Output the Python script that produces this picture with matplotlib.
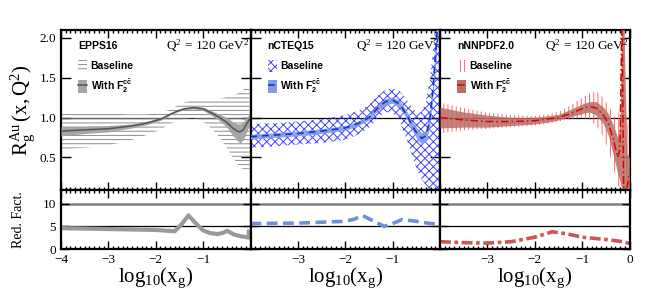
import matplotlib
matplotlib.use("Agg")
import matplotlib.pyplot as plt
from matplotlib.patches import Patch
from matplotlib.lines import Line2D
from matplotlib.ticker import MultipleLocator

plt.rcParams['font.family'] = ['Liberation Serif', 'DejaVu Serif']
plt.rcParams['mathtext.fontset'] = 'custom'
plt.rcParams['mathtext.rm'] = 'Liberation Serif'
plt.rcParams['mathtext.it'] = 'Liberation Serif:italic'
plt.rcParams['mathtext.sf'] = 'Liberation Sans:bold'
plt.rcParams['hatch.linewidth'] = 0.7

# ---- top panels: R_g^Au ----
# EPPS16
eppsX = [-4, -3.5, -3, -2.5, -2.2, -1.9, -1.7, -1.55, -1.4, -1.2, -1.0, -0.8, -0.65, -0.5, -0.38, -0.28, -0.22, -0.15, -0.08, -0.02]
eppsMid = [0.83, 0.845, 0.86, 0.895, 0.93, 0.98, 1.04, 1.08, 1.11, 1.125, 1.11, 1.05, 1.0, 0.94, 0.87, 0.83, 0.82, 0.85, 0.92, 0.98]
eppsLo = [0.77, 0.80, 0.82, 0.87, 0.91, 0.965, 1.03, 1.07, 1.10, 1.11, 1.09, 1.02, 0.96, 0.88, 0.78, 0.71, 0.68, 0.72, 0.82, 0.9]
eppsHi = [0.89, 0.89, 0.90, 0.92, 0.95, 0.995, 1.05, 1.09, 1.12, 1.14, 1.13, 1.08, 1.04, 1.0, 0.95, 0.92, 0.92, 0.95, 1.0, 1.05]
eppsBaseLo = [0.60, 0.62, 0.65, 0.72, 0.78, 0.85, 0.92, 0.96, 0.98, 0.99, 0.95, 0.85, 0.75, 0.62, 0.5, 0.42, 0.38, 0.35, 0.35, 0.35]
eppsBaseHi = [1.06, 1.05, 1.05, 1.04, 1.04, 1.06, 1.10, 1.15, 1.19, 1.22, 1.22, 1.22, 1.23, 1.26, 1.28, 1.3, 1.32, 1.35, 1.38, 1.4]

# nCTEQ15
ncteqX = [-4, -3.5, -3, -2.5, -2, -1.75, -1.5, -1.3, -1.15, -1.0, -0.85, -0.7, -0.55, -0.45, -0.38, -0.3, -0.22, -0.15, -0.1, -0.05, 0]
ncteqMid = [0.76, 0.78, 0.80, 0.83, 0.87, 0.92, 1.0, 1.13, 1.2, 1.22, 1.17, 1.03, 0.86, 0.77, 0.74, 0.77, 0.95, 1.35, 1.75, 2.2, 2.6]
ncteqLo = [0.73, 0.75, 0.77, 0.80, 0.84, 0.89, 0.97, 1.09, 1.16, 1.18, 1.13, 0.98, 0.80, 0.70, 0.67, 0.70, 0.87, 1.25, 1.6, 2.0, 2.4]
ncteqHi = [0.79, 0.81, 0.83, 0.86, 0.90, 0.95, 1.03, 1.17, 1.24, 1.26, 1.21, 1.08, 0.92, 0.84, 0.81, 0.84, 1.03, 1.45, 1.9, 2.4, 2.8]
ncteqBaseLo = [0.62, 0.64, 0.66, 0.68, 0.72, 0.78, 0.87, 1.0, 1.07, 1.06, 0.95, 0.72, 0.45, 0.3, 0.22, 0.15, 0.1, 0.1, 0.1, 0.1, 0.1]
ncteqBaseHi = [0.92, 0.93, 0.95, 0.98, 1.03, 1.08, 1.16, 1.28, 1.35, 1.37, 1.33, 1.22, 1.1, 1.05, 1.08, 1.2, 1.45, 1.8, 2.2, 2.2, 2.2]

# nNNPDF2.0
nnpdfX = [-4, -3.5, -3, -2.5, -2, -1.75, -1.5, -1.25, -1.0, -0.85, -0.7, -0.55, -0.45, -0.35, -0.25, -0.2, -0.16, -0.12, -0.06, 0]
nnpdfMid = [1.0, 0.97, 0.95, 0.95, 0.96, 0.98, 1.0, 1.05, 1.11, 1.14, 1.12, 1.03, 0.93, 0.75, 0.5, 0.6, 2.3, 0.0, 0.1, 0.3]
nnpdfLo = [0.87, 0.88, 0.88, 0.9, 0.92, 0.94, 0.97, 1.01, 1.05, 1.07, 1.03, 0.92, 0.78, 0.55, 0.3, 0.2, 0.1, 0.05, 0.05, 0.05]
nnpdfHi = [1.13, 1.07, 1.03, 1.0, 1.0, 1.02, 1.04, 1.1, 1.17, 1.2, 1.2, 1.13, 1.05, 0.92, 0.75, 0.9, 2.3, 2.3, 0.55, 0.5]
nnpdfBaseLo = [0.8, 0.84, 0.86, 0.88, 0.9, 0.92, 0.95, 0.98, 1.0, 0.97, 0.9, 0.75, 0.6, 0.4, 0.15, 0.1, 0.1, 0.1, 0.1, 0.1]
nnpdfBaseHi = [1.19, 1.12, 1.06, 1.03, 1.02, 1.04, 1.07, 1.15, 1.25, 1.3, 1.33, 1.25, 1.15, 1.05, 0.95, 1.2, 2.3, 2.3, 1.0, 0.8]

# ---- bottom panels: reduction factor ----
eppsRedX = [-4, -3, -2, -1.6, -1.45, -1.31, -1.15, -1.0, -0.85, -0.7, -0.6, -0.49, -0.35, -0.2, -0.08, -0.04, -0.03]
eppsRed = [4.6, 4.4, 4.2, 3.9, 5.5, 7.4, 5.6, 4.1, 3.5, 3.3, 3.5, 4.0, 3.2, 2.8, 2.6, 2.5, 4.3]
ncteqRedX = [-4, -3, -2, -1.8, -1.64, -1.45, -1.18, -1.0, -0.8, -0.5, -0.2, -0.03]
ncteqRed = [5.6, 5.7, 6.1, 6.6, 7.4, 6.4, 5.0, 5.6, 6.5, 6.1, 5.6, 5.5]
nnpdfRedX = [-4, -3.5, -3, -2.5, -2, -1.63, -1.3, -1, -0.5, -0.2, 0]
nnpdfRed = [1.6, 1.4, 1.3, 1.6, 2.6, 3.8, 3.3, 2.6, 2.1, 1.7, 1.25]

names = ["EPPS16", "nCTEQ15", "nNNPDF2.0"]
fig = plt.figure(figsize=(6.64, 2.93), dpi=100)

left0 = 61 / 664
panelW = 189.5 / 664
topB, topH = (293 - 190) / 293, 160 / 293
botB, botH = (293 - 249) / 293, 59 / 293

def style(ax):
    ax.tick_params(which='both', direction='in', top=True, right=True, width=1.0, labelsize=9.5)
    ax.tick_params(which='major', length=6)
    ax.tick_params(which='minor', length=2.5)
    for s in ax.spines.values():
        s.set_linewidth(1.6)

topAxes = []
botAxes = []
for i in range(3):
    at = fig.add_axes([left0 + i * panelW, topB, panelW, topH])
    ab = fig.add_axes([left0 + i * panelW, botB, panelW, botH])
    for a in (at, ab):
        a.set_xlim(-4, 0)
        a.xaxis.set_major_locator(MultipleLocator(1))
        a.xaxis.set_minor_locator(MultipleLocator(0.1))
        style(a)
    at.set_ylim(0.09, 2.1)
    at.yaxis.set_major_locator(MultipleLocator(0.5))
    at.tick_params(axis='x', labelbottom=False)
    at.tick_params(axis='y', which='major', length=7)
    ab.set_ylim(0, 13)
    ab.yaxis.set_major_locator(MultipleLocator(5))
    at.axhline(1, color='black', lw=0.9, zorder=1)
    ab.axhline(10, color='gray', lw=1.8, zorder=1)
    ab.axhline(5, color='black', lw=0.9, zorder=1)
    ab.set_xlabel(r'$\mathrm{log_{10}(x_{g})}$', fontsize=15, labelpad=0)
    if i > 0:
        at.tick_params(axis='y', labelleft=False)
        ab.tick_params(axis='y', labelleft=False)
    topAxes.append(at)
    botAxes.append(ab)

botAxes[0].set_xticks([-4, -3, -2, -1])
botAxes[1].set_xticks([-3, -2, -1])
botAxes[2].set_xticks([-3, -2, -1, 0])
for a in botAxes:
    a.xaxis.set_major_formatter(matplotlib.ticker.FuncFormatter(lambda v, p: '\u2212%d' % abs(v) if v < 0 else '%d' % v))

# EPPS16
ax = topAxes[0]
ax.fill_between(eppsX, eppsBaseLo, eppsBaseHi, facecolor='none', edgecolor='#8c8c8c', hatch='----', lw=0, zorder=2)
ax.fill_between(eppsX, eppsLo, eppsHi, color='#a6a6a6', lw=0, zorder=3)
ax.plot(eppsX, eppsMid, color='#555555', lw=1.1, zorder=4)
h1 = Patch(facecolor='none', edgecolor='#8c8c8c', hatch='----', lw=0)
h2 = (Patch(facecolor='#a6a6a6', lw=0), Line2D([], [], color='#555555', lw=1.1))

# nCTEQ15
ax = topAxes[1]
ax.fill_between(ncteqX, ncteqBaseLo, ncteqBaseHi, facecolor='none', edgecolor='#4545ff', hatch='xxxx', lw=0, zorder=2)
ax.fill_between(ncteqX, ncteqLo, ncteqHi, color='#7f9ee0', alpha=0.9, lw=0, zorder=3)
ax.plot(ncteqX, ncteqMid, color='#1a2ed6', lw=1.2, ls=(0, (4, 3)), zorder=4)
n1 = Patch(facecolor='none', edgecolor='#4545ff', hatch='xxxx', lw=0)
n2 = (Patch(facecolor='#7f9ee0', lw=0), Line2D([], [], color='#1a2ed6', lw=1.2, ls=(0, (4, 3))))

# nNNPDF2.0
ax = topAxes[2]
ax.fill_between(nnpdfX, nnpdfBaseLo, nnpdfBaseHi, facecolor='none', edgecolor='#ff6666', hatch='||||', lw=0, zorder=2)
ax.fill_between(nnpdfX, nnpdfLo, nnpdfHi, color='#b86f66', alpha=0.85, lw=0, zorder=3)
ax.plot(nnpdfX, nnpdfMid, color='#e00000', lw=1.1, ls=(0, (5, 2, 1, 2)), zorder=4)
p1 = Patch(facecolor='none', edgecolor='#ff6666', hatch='||||', lw=0)
p2 = (Patch(facecolor='#b86f66', lw=0), Line2D([], [], color='#e00000', lw=1.1, ls=(0, (5, 2, 1, 2))))

handles = [(h1, h2), (n1, n2), (p1, p2)]
for ax, name, hs in zip(topAxes, names, handles):
    leg = ax.legend(list(hs), ['Baseline', r'With $\mathsf{F_{2}^{c\bar{c}}}$'], title=name,
                    loc='upper left', bbox_to_anchor=(0.09, 0.93), frameon=False,
                    prop={'family': 'Liberation Sans', 'weight': 'bold', 'size': 7.5},
                    handlelength=0.9, handleheight=1.5, handletextpad=0.3, labelspacing=0.55,
                    borderaxespad=0, borderpad=0)
    leg.get_title().set_fontfamily('Liberation Sans')
    leg.get_title().set_fontweight('bold')
    leg.get_title().set_fontsize(7.5)
    leg._legend_box.align = 'left'
    leg._legend_box.sep = 6
    ax.text(0.995, 0.955, r'$\mathrm{Q^{2}\,=\,120\ GeV^{2}}$', transform=ax.transAxes,
            ha='right', va='top', fontsize=9.5, clip_on=True)

botAxes[0].plot(eppsRedX, eppsRed, color='#999999', lw=3, solid_capstyle='butt')
botAxes[1].plot(ncteqRedX, ncteqRed, color='#6f8fd8', lw=2.6, ls=(0, (3, 1.5)))
botAxes[2].plot(nnpdfRedX, nnpdfRed, color='#cc5555', lw=2.6, ls=(0, (3, 1, 1, 1)))

topAxes[0].set_ylabel(r'$\mathrm{R_{g}^{Au}\,(x,Q^{2})}$', fontsize=15, labelpad=2)
fig.text(0.028, (293 - 220) / 293, 'Red. Fact.', rotation=90, ha='center', va='center', fontsize=10)

fig.savefig('out.png', dpi=100)
